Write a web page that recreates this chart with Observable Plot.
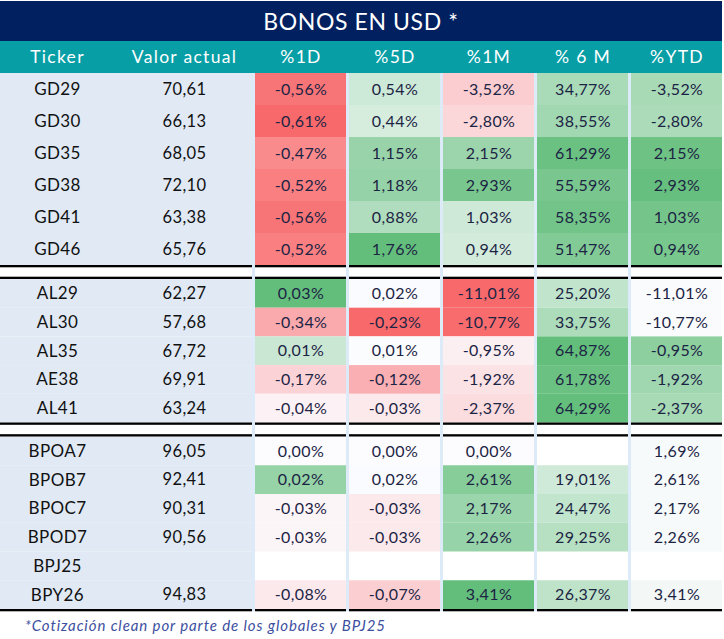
<!DOCTYPE html>
<html><head><meta charset="utf-8">
<script src="https://cdn.jsdelivr.net/npm/d3@7"></script>
<script src="https://cdn.jsdelivr.net/npm/@observablehq/plot@0.6"></script>
<style>
body{margin:0;background:#fff;font-family:Lato,"Noto Sans",sans-serif;}
#wrap{width:724px;}
#title{margin-top:1px;height:40px;width:722px;background:#002060;color:#fff;font-size:23px;display:flex;align-items:center;justify-content:center;letter-spacing:0.6px;}
#chart svg{display:block;}
#note{height:24px;line-height:24px;padding-left:25px;font-size:15px;font-style:italic;color:#3d4f9f;letter-spacing:0.9px;}
</style></head><body>
<div id="wrap">
<div id="title">BONOS EN USD *</div>
<div id="chart"></div>
<div id="note">*Cotización clean por parte de los globales y BPJ25</div>
</div>
<script>
// ---- data ----
const headers = ["Ticker","Valor actual","%1D","%5D","%1M","% 6 M","%YTD"];
const tickers = ["GD29","GD30","GD35","GD38","GD41","GD46","AL29","AL30","AL35","AE38","AL41","BPOA7","BPOB7","BPOC7","BPOD7","BPJ25","BPY26"];
const groups  = [1,1,1,1,1,1,2,2,2,2,2,3,3,3,3,3,3];
const valorActual = [70.61,66.13,68.05,72.10,63.38,65.76,62.27,57.68,67.72,69.91,63.24,96.05,92.41,90.31,90.56,null,94.83];
const pct1D  = [-0.56,-0.61,-0.47,-0.52,-0.56,-0.52,0.03,-0.34,0.01,-0.17,-0.04,0.00,0.02,-0.03,-0.03,null,-0.08];
const pct5D  = [0.54,0.44,1.15,1.18,0.88,1.76,0.02,-0.23,0.01,-0.12,-0.03,0.00,0.02,-0.03,-0.03,null,-0.07];
const pct1M  = [-3.52,-2.80,2.15,2.93,1.03,0.94,-11.01,-10.77,-0.95,-1.92,-2.37,0.00,2.61,2.17,2.26,null,3.41];
const pct6M  = [34.77,38.55,61.29,55.59,58.35,51.47,25.20,33.75,64.87,61.78,64.29,null,19.01,24.47,29.25,null,26.37];
const pctYTD = [-3.52,-2.80,2.15,2.93,1.03,0.94,-11.01,-10.77,-0.95,-1.92,-2.37,1.69,2.61,2.17,2.26,null,3.41];
// shading shown in the %YTD column (0 = white, 1 = full green)
const ytdShade = [0.55,0.53,0.93,0.98,0.88,0.86,0.02,0.02,0.72,0.6,0.55,0.03,0.04,0.04,0.04,null,0.06];

// ---- layout ----
const W = 724, headerH = 32, lineW = 2.3, sepGap = 14;
const rowH = {1:32, 2:28.7, 3:28.75};
const metricCols = [[255,346],[349,440],[443,534],[537,628],[631,722]];
const leftBlock = [0,252];
const blocks = [leftBlock, ...metricCols];
const headerX = [57,184, ...metricCols.map(c => (c[0]+c[1])/2)];

function tonesOf(arr){
  const mx = d3.max(arr.filter(v => v != null && v > 0));
  const mn = d3.min(arr.filter(v => v != null && v < 0));
  return arr.map(v => v == null ? null : v > 0 ? v/mx : v < 0 ? -v/mn : 0);
}
const series = [pct1D,pct5D,pct1M,pct6M,pctYTD];
const tones = [tonesOf(pct1D),tonesOf(pct5D),tonesOf(pct1M),tonesOf(pct6M),ytdShade];

const rows = []; const lineYs = [];
let y = headerH, prev = null;
tickers.forEach((t,i) => {
  const g = groups[i];
  if (prev !== null && g !== prev){ lineYs.push(y, y + sepGap - lineW); y += sepGap; }
  rows.push({i, t, g, y1:y, y2:y+rowH[g]});
  y += rowH[g]; prev = g;
});
lineYs.push(y);
const bottom = y + lineW;
const H = Math.ceil(bottom + 1.5);

const fmtPct = v => v.toFixed(2).replace(".", ",") + "%";
const fmtNum = v => v.toFixed(2).replace(".", ",");

const cells = [];
rows.forEach(r => series.forEach((s,j) => {
  const v = s[r.i];
  cells.push({x1:metricCols[j][0], x2:metricCols[j][1], y1:r.y1, y2:r.y2,
    xc:(metricCols[j][0]+metricCols[j][1])/2, yc:(r.y1+r.y2)/2,
    tone:tones[j][r.i], label: v == null ? null : fmtPct(v)});
}));
const strips = metricCols.map((c,j) => ({x1: j===0 ? leftBlock[1] : metricCols[j-1][1], x2: c[0]}));
const lines = [];
lineYs.forEach(ly => blocks.forEach(b => lines.push({x1:b[0], x2:b[1], y1:ly, y2:ly+lineW})));
const headerData = headers.map((h,k) => ({h, x:headerX[k]}));

const chart = Plot.plot({
  width: W, height: H, margin: 0,
  x: {domain:[0,W], range:[0,W], axis:null},
  y: {domain:[0,H], range:[0,H], axis:null},
  color: {type:"linear", domain:[-1,0,1], range:["#F8696B","#FCFCFF","#63BE7B"], interpolate:"rgb", clamp:true},
  style: {fontFamily:"Lato, 'Noto Sans', sans-serif", background:"white"},
  marks: [
    Plot.rect(strips, {x1:"x1", x2:"x2", y1:headerH, y2:bottom, fill:"#ddebf8"}),
    Plot.rect([{x1:0,x2:722}], {x1:"x1", x2:"x2", y1:0, y2:headerH, fill:"#079ea6"}),
    Plot.text(headerData, {x:"x", y:headerH/2, text:"h", fill:"white", fontSize:17.5}),
    Plot.rect(rows, {x1:leftBlock[0], x2:leftBlock[1], y1:"y1", y2:"y2", fill:"#e0e9f4"}),
    Plot.rect(cells.filter(c => c.tone != null), {x1:"x1", x2:"x2", y1:"y1", y2:"y2", fill:"tone"}),
    Plot.rect(lines, {x1:"x1", x2:"x2", y1:"y1", y2:"y2", fill:"black"}),
    Plot.text(rows, {x:headerX[0], y:d => (d.y1+d.y2)/2, text:"t", fill:"#111", fontSize:17}),
    Plot.text(rows.filter(r => valorActual[r.i] != null), {x:headerX[1], y:d => (d.y1+d.y2)/2, text:d => fmtNum(valorActual[d.i]), fill:"#111", fontSize:16.5}),
    Plot.text(cells.filter(c => c.label != null), {x:"xc", y:"yc", text:"label", fill:"#1c2444", fontSize:16})
  ]
});
// letter spacing to approximate the wider rounded typeface
d3.select(chart).selectAll("text").style("letter-spacing", "0.4px");
d3.select(chart).selectAll("text").filter(function(){ return headers.includes(this.textContent); }).style("letter-spacing", "1.3px");
document.getElementById("chart").appendChild(chart);
</script>
</body></html>
